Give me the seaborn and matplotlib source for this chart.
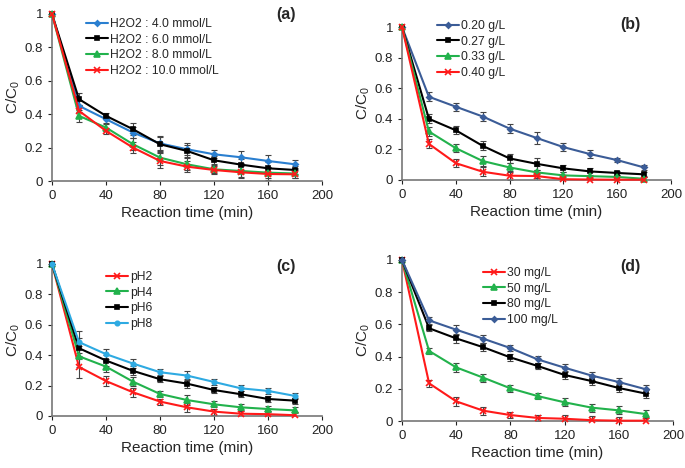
import numpy as np
import matplotlib
matplotlib.use('Agg')
import matplotlib.pyplot as plt
import seaborn as sns

sns.set_style('ticks')
plt.rcParams['font.family'] = ['Liberation Sans', 'DejaVu Sans']
plt.rcParams['mathtext.default'] = 'regular'

# time axis (min)
time = [0, 20, 40, 60, 80, 100, 120, 140, 160, 180]

# (a) H2O2 dose
a_labels = ['H2O2 : 4.0 mmol/L', 'H2O2 : 6.0 mmol/L', 'H2O2 : 8.0 mmol/L', 'H2O2 : 10.0 mmol/L']
a_h4 = [1, 0.45, 0.37, 0.29, 0.225, 0.19, 0.16, 0.142, 0.12, 0.10]
a_h6 = [1, 0.49, 0.39, 0.31, 0.22, 0.18, 0.124, 0.098, 0.076, 0.066]
a_h8 = [1, 0.39, 0.32, 0.22, 0.14, 0.10, 0.07, 0.06, 0.05, 0.045]
a_h10 = [1, 0.42, 0.30, 0.20, 0.12, 0.086, 0.066, 0.052, 0.042, 0.04]
a_err = [0, 0.035, 0.02, 0.035, 0.045, 0.035, 0.025, 0.035, 0.035, 0.025]

# (b) catalyst dose
b_labels = ['0.20 g/L', '0.27 g/L', '0.33 g/L', '0.40 g/L']
b_020 = [1, 0.544, 0.479, 0.415, 0.336, 0.275, 0.215, 0.169, 0.13, 0.082]
b_027 = [1, 0.40, 0.325, 0.223, 0.141, 0.106, 0.076, 0.056, 0.046, 0.037]
b_033 = [1, 0.317, 0.208, 0.124, 0.082, 0.05, 0.03, 0.025, 0.02, 0.008]
b_040 = [1, 0.236, 0.11, 0.054, 0.028, 0.026, 0.005, 0.003, 0.002, 0.002]
b_err = [0, 0.03, 0.025, 0.03, 0.03, 0.04, 0.025, 0.025, 0.015, 0.015]

# (c) pH
c_labels = ['pH2', 'pH4', 'pH6', 'pH8']
c_ph2 = [1, 0.323, 0.23, 0.156, 0.095, 0.057, 0.029, 0.015, 0.012, 0.005]
c_ph4 = [1, 0.393, 0.325, 0.226, 0.145, 0.105, 0.077, 0.057, 0.046, 0.037]
c_ph6 = [1, 0.446, 0.365, 0.297, 0.242, 0.213, 0.171, 0.143, 0.112, 0.101]
c_ph8 = [1, 0.486, 0.407, 0.345, 0.288, 0.266, 0.224, 0.182, 0.165, 0.132]
c_err = [0, 0.07, 0.035, 0.03, 0.02, 0.03, 0.02, 0.02, 0.02, 0.02]

# (d) initial concentration
d_labels = ['30 mg/L', '50 mg/L', '80 mg/L', '100 mg/L']
d_30 = [1, 0.234, 0.122, 0.064, 0.037, 0.019, 0.014, 0.005, 0.002, 0.002]
d_50 = [1, 0.435, 0.333, 0.269, 0.203, 0.155, 0.116, 0.083, 0.066, 0.043]
d_80 = [1, 0.576, 0.513, 0.458, 0.395, 0.342, 0.286, 0.248, 0.205, 0.17]
d_100 = [1, 0.625, 0.567, 0.511, 0.453, 0.383, 0.331, 0.282, 0.242, 0.197]
d_err = [0, 0.02, 0.03, 0.025, 0.02, 0.02, 0.025, 0.025, 0.025, 0.025]

RED = '#ff1a1a'
GREEN = '#22b24c'
BLACK = '#000000'
BLUE_A = '#2a7fd0'
BLUE_B = '#3b5c97'
BLUE_C = '#2eaae2'

fig = plt.figure(figsize=(6.85, 4.68), dpi=100)

panels = [
    # rect, series, errors, legend anchor, tag pos, tag
    ([52, 14, 322, 181], [(a_h4, a_labels[0], BLUE_A, 'D', 2.8),
                          (a_h6, a_labels[1], BLACK, 's', 3.2),
                          (a_h8, a_labels[2], GREEN, '^', 3.8),
                          (a_h10, a_labels[3], RED, 'x', 3.8)],
     a_err, (86, 18), (286, 14), '(a)'),
    ([402, 27, 671, 180], [(b_020, b_labels[0], BLUE_B, 'D', 2.8),
                           (b_027, b_labels[1], BLACK, 's', 3.2),
                           (b_033, b_labels[2], GREEN, '^', 3.8),
                           (b_040, b_labels[3], RED, 'x', 3.8)],
     b_err, (437, 20), (630, 25), '(b)'),
    ([52, 264, 322, 416], [(c_ph2, c_labels[0], RED, 'x', 3.8),
                           (c_ph4, c_labels[1], GREEN, '^', 3.8),
                           (c_ph6, c_labels[2], BLACK, 's', 3.2),
                           (c_ph8, c_labels[3], BLUE_C, 'o', 3.2)],
     c_err, (106, 271), (286, 266), '(c)'),
    ([402, 260, 673, 421], [(d_30, d_labels[0], RED, 'x', 3.8),
                            (d_50, d_labels[1], GREEN, '^', 3.8),
                            (d_80, d_labels[2], BLACK, 's', 3.2),
                            (d_100, d_labels[3], BLUE_B, 'D', 2.8)],
     d_err, (483, 267), (630, 267), '(d)'),
]

W, H = 685, 468
for rect, series, err, leg_xy, tag_xy, tag in panels:
    x0, y0, x1, y1 = rect
    ax = fig.add_axes([x0 / W, 1 - y1 / H, (x1 - x0) / W, (y1 - y0) / H])
    for vals, lab, col, mk, ms in series:
        ax.errorbar(time, vals, yerr=err, fmt='none', ecolor='#444444',
                    elinewidth=0.8, capsize=2, capthick=0.8, zorder=1)
        sns.lineplot(x=time, y=vals, ax=ax, color=col, marker=mk, markersize=ms,
                     markeredgecolor=col, markeredgewidth=1.2, linewidth=1.5,
                     label=lab, clip_on=False, zorder=3)
    ax.set_xlim(0, 200)
    ax.set_ylim(0, 1)
    ax.set_xticks([0, 40, 80, 120, 160, 200])
    ax.set_yticks([0, 0.2, 0.4, 0.6, 0.8, 1])
    ax.set_yticklabels(['0', '0.2', '0.4', '0.6', '0.8', '1'])
    ax.tick_params(labelsize=9.5, length=3, width=0.8, colors='#222222')
    for s in ['left', 'bottom']:
        ax.spines[s].set_color('#777777')
        ax.spines[s].set_linewidth(1.2)
    sns.despine(ax=ax)
    ax.set_xlabel('Reaction time (min)', fontsize=11, labelpad=3)
    ax.set_ylabel('C/C$_0$', fontsize=11, labelpad=2)
    ax.legend(loc='upper left', bbox_to_anchor=(leg_xy[0] / W, 1 - leg_xy[1] / H),
              bbox_transform=fig.transFigure, frameon=False, fontsize=8.7,
              borderpad=0, borderaxespad=0, labelspacing=0.3, handlelength=1.8,
              handletextpad=0.2, numpoints=1)
    fig.text(tag_xy[0] / W, 1 - tag_xy[1] / H, tag, ha='center', va='center',
             fontsize=11.5, fontweight='bold')

fig.savefig('out.png', dpi=100)
